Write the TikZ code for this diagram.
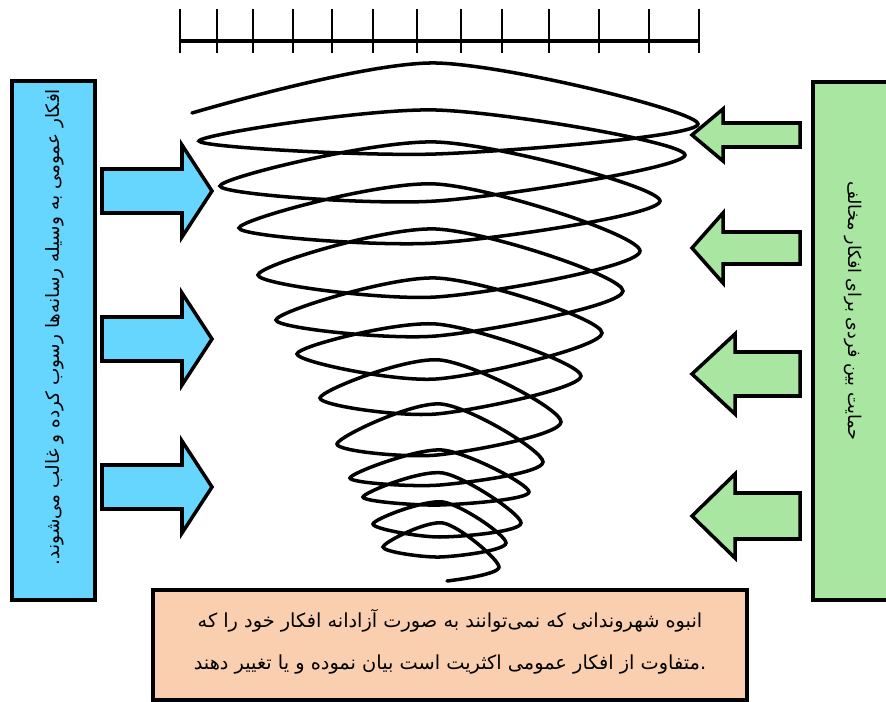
\documentclass[tikz,border=0pt]{standalone}
\usepackage{fontspec}
\newfontfamily\farsi[Script=Arabic]{DejaVu Sans}
\TeXXeTstate=1
\definecolor{leftblue}{HTML}{66D6FF}
\definecolor{rightgreen}{HTML}{A8E6A2}
\definecolor{peach}{HTML}{F9CFB0}

\begin{document}
\begin{tikzpicture}[x=0.02cm, y=-0.02cm,
    box/.style={draw=black, line width=2.3pt},
    blockarrow/.style={draw=black, line width=2pt, line join=miter},
    label/.style={font=\farsi\fontsize{11}{24}\selectfont, inner sep=0pt}]
\useasboundingbox (0,0) rectangle (886,702);
\clip (0,0) rectangle (886,702);

% ruler at the top
\draw[line width=2.2pt] (180,41) -- (699,41);
\foreach \t in {180,217,253,293,332,373,417,461,502,549,599,649,699}
    \draw[line width=1.4pt] (\t,9) -- (\t,53);

% the spiral
\draw[line width=2pt, line cap=round] plot[smooth] coordinates {
    (192,113) (436,63) (698,124) (436,154)
    (199,141) (436,110) (685,155) (436,201)
    (220,186) (436,142) (660,201) (436,243)
    (239,228) (436,184) (640,251) (436,297)
    (258,275) (436,229) (623,291) (436,336)
    (276,320) (436,278) (602,333) (436,379)
    (297,354) (436,324) (581,376) (436,414)
    (320,398) (440,360) (561,422) (437,455)
    (337,444) (441,404) (543,462) (440,485)
    (350,478) (442,450) (529,492) (440,505)
    (363,497) (443,473) (521,523) (440,537)
    (373,524) (443,502) (506,543) (440,557)
    (383,547) (443,523) (499,567) (447,581)};

% boxes
\draw[box, fill=leftblue] (12,81) rectangle (95,600);
\draw[box, fill=rightgreen] (813,82) rectangle (905,600);
\draw[box, fill=peach] (153,590) rectangle (747,700);

% block arrows
\foreach \y in {191,339,487}
    \draw[blockarrow, fill=leftblue] (102,\y-22) -- (182,\y-22) -- (182,\y-46)
        -- (212,\y) -- (182,\y+46) -- (182,\y+22) -- (102,\y+22) -- cycle;
\foreach \y/\b/\h/\s in {135/12/26/723, 248/16/35/723, 374/22/40/735, 516/23/42/735}
    \draw[blockarrow, fill=rightgreen] (800,\y-\b) -- (\s,\y-\b) -- (\s,\y-\h)
        -- (692,\y) -- (\s,\y+\h) -- (\s,\y+\b) -- (800,\y+\b) -- cycle;

% texts
\node[label, font=\farsi\fontsize{10.5}{24}\selectfont, rotate=90] (lefttxt) at (55,327)
    {\beginR افکار عمومی به وسیله رسانه‌ها رسوب کرده و غالب می‌شوند.\endR};
\node[label, font=\farsi\fontsize{10}{24}\selectfont, rotate=-90] (righttxt) at (853,311)
    {\beginR حمایت بین فردی برای افکار مخالف\endR};
\node[label, align=center] (bottomtxt) at (450,642)
    {\beginR انبوه شهروندانی که نمی‌توانند به صورت آزادانه افکار خود را که\endR\\
     \beginR متفاوت از افکار عمومی اکثریت است بیان نموده و یا تغییر دهند\endR.};
\end{tikzpicture}
\end{document}
